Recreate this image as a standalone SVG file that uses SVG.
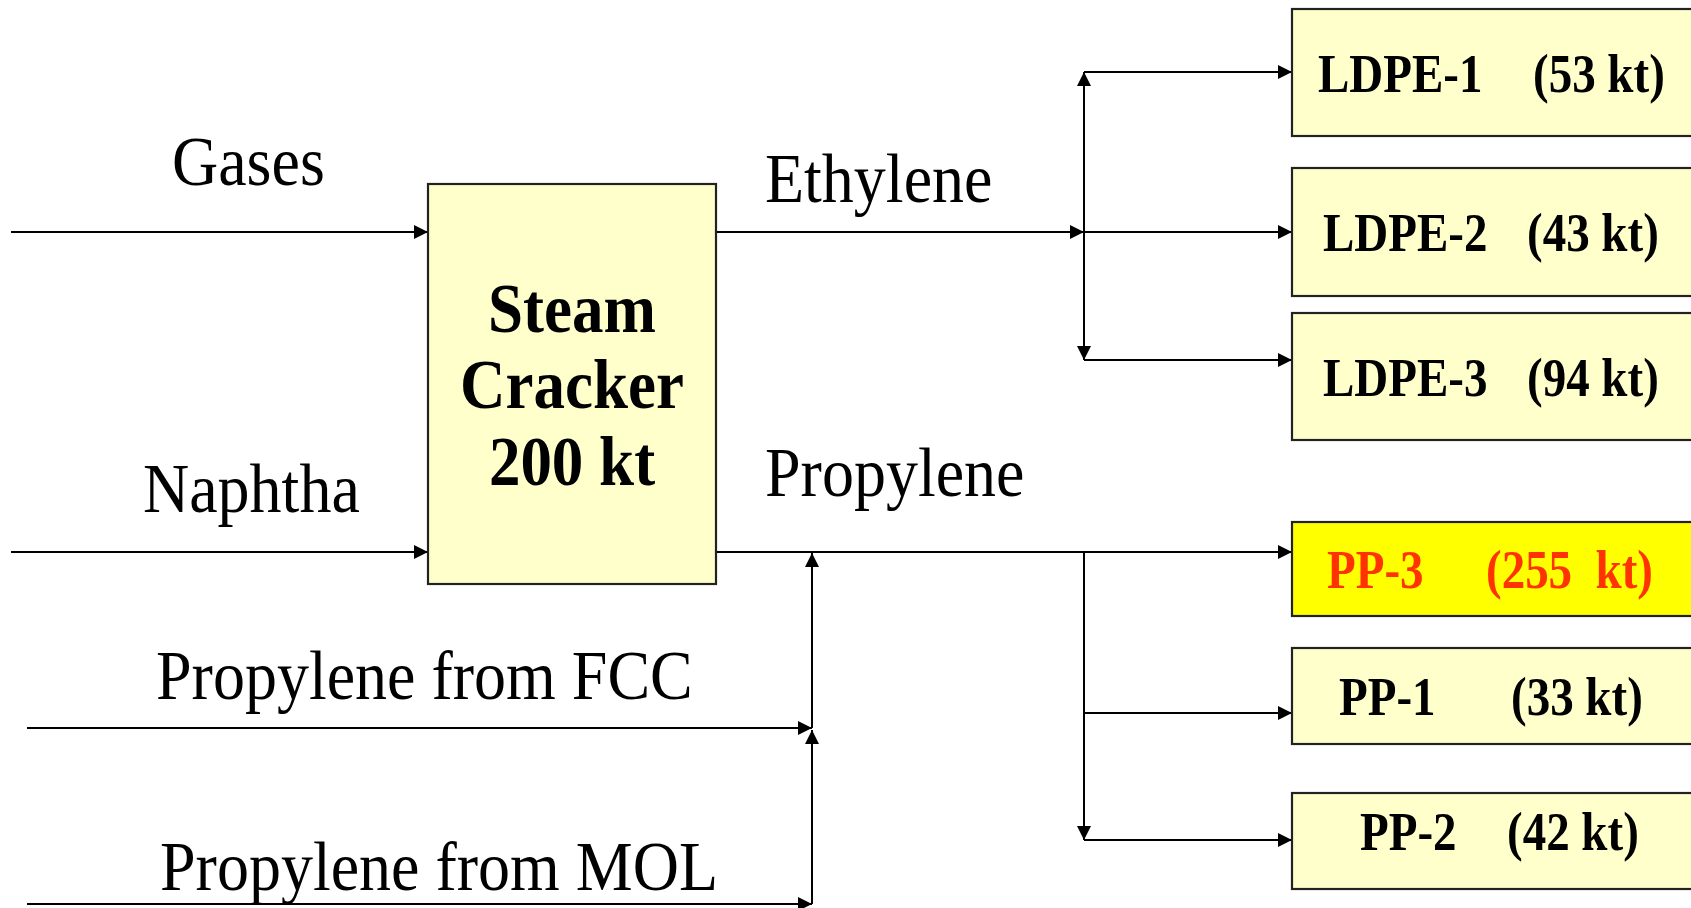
<svg xmlns="http://www.w3.org/2000/svg" width="1691" height="908" viewBox="0 0 1691 908">
<style>
.ln{stroke:#000;stroke-width:2;fill:none}
.box{fill:#FFFFCC;stroke:#222;stroke-width:2.2}
.hot{fill:#FFFF00;stroke:#222;stroke-width:2.2}
.lbl{font-family:"Liberation Serif","Times New Roman",serif;font-size:64px;fill:#000}
.bx{font-family:"Liberation Serif","Times New Roman",serif;font-size:47px;font-weight:bold;fill:#000;white-space:pre}
.sc{font-family:"Liberation Serif","Times New Roman",serif;font-size:63px;font-weight:bold;fill:#000;text-anchor:middle}
.red{fill:#FF3300}
</style>
<defs>
<marker id="ah" viewBox="0 0 10 10" markerUnits="userSpaceOnUse" markerWidth="17" markerHeight="14" refX="10" refY="5" orient="auto">
<path d="M0,0 L10,5 L0,10 z" fill="#000"/>
</marker>
</defs>
<rect width="1691" height="908" fill="#fff"/>

<g id="connectors">
<line class="ln" x1="11" y1="232" x2="428" y2="232" marker-end="url(#ah)"/>
<line class="ln" x1="11" y1="552" x2="428" y2="552" marker-end="url(#ah)"/>
<line class="ln" x1="716" y1="232" x2="1084" y2="232" marker-end="url(#ah)"/>
<line class="ln" x1="1084" y1="232" x2="1292" y2="232" marker-end="url(#ah)"/>
<line class="ln" x1="1084" y1="232" x2="1084" y2="72" marker-end="url(#ah)"/>
<line class="ln" x1="1084" y1="232" x2="1084" y2="360" marker-end="url(#ah)"/>
<line class="ln" x1="1084" y1="72" x2="1292" y2="72" marker-end="url(#ah)"/>
<line class="ln" x1="1084" y1="360" x2="1292" y2="360" marker-end="url(#ah)"/>
<line class="ln" x1="716" y1="552" x2="1292" y2="552" marker-end="url(#ah)"/>
<line class="ln" x1="1084" y1="552" x2="1084" y2="840" marker-end="url(#ah)"/>
<line class="ln" x1="1084" y1="713" x2="1292" y2="713" marker-end="url(#ah)"/>
<line class="ln" x1="1084" y1="840" x2="1292" y2="840" marker-end="url(#ah)"/>
<line class="ln" x1="27" y1="728" x2="812" y2="728" marker-end="url(#ah)"/>
<line class="ln" x1="812" y1="728" x2="812" y2="553" marker-end="url(#ah)"/>
<line class="ln" x1="27" y1="904" x2="812" y2="904" marker-end="url(#ah)"/>
<line class="ln" x1="812" y1="904" x2="812" y2="730" marker-end="url(#ah)"/>
</g>

<g id="labels">
<text class="lbl" transform="translate(172 185) scale(1 1.1)">Gases</text>
<text class="lbl" transform="translate(143 512) scale(1 1.1)">Naphtha</text>
<text class="lbl" transform="translate(765 202) scale(1 1.1)">Ethylene</text>
<text class="lbl" transform="translate(765 496) scale(1 1.1)">Propylene</text>
<text class="lbl" transform="translate(156 699) scale(1 1.1)">Propylene from FCC</text>
<text class="lbl" transform="translate(160 890) scale(1 1.1)">Propylene from MOL</text>
</g>

<g id="steam-cracker">
<rect class="box" x="428" y="184" width="288" height="400"/>
<text class="sc" transform="translate(572 332) scale(1 1.1)">Steam</text>
<text class="sc" transform="translate(572 408) scale(1 1.1)">Cracker</text>
<text class="sc" transform="translate(572 485) scale(1 1.1)">200 kt</text>
</g>

<g id="ldpe1">
<rect class="box" x="1292" y="9" width="410" height="127"/>
<text class="bx" transform="translate(1318 92) scale(1 1.15)">LDPE-1</text>
<text class="bx" transform="translate(1533 92) scale(1 1.15)">(53 kt)</text>
</g>
<g id="ldpe2">
<rect class="box" x="1292" y="168" width="410" height="128"/>
<text class="bx" transform="translate(1323 251) scale(1 1.15)">LDPE-2</text>
<text class="bx" transform="translate(1527 251) scale(1 1.15)">(43 kt)</text>
</g>
<g id="ldpe3">
<rect class="box" x="1292" y="313" width="410" height="127"/>
<text class="bx" transform="translate(1323 396) scale(1 1.15)">LDPE-3</text>
<text class="bx" transform="translate(1527 396) scale(1 1.15)">(94 kt)</text>
</g>
<g id="pp3">
<rect class="hot" x="1292" y="522" width="410" height="94"/>
<text class="bx red" transform="translate(1327 588) scale(1 1.15)">PP-3</text>
<text class="bx red" transform="translate(1486 588) scale(1 1.15)">(255  kt)</text>
</g>
<g id="pp1">
<rect class="box" x="1292" y="648" width="410" height="96"/>
<text class="bx" transform="translate(1339 715) scale(1 1.15)">PP-1</text>
<text class="bx" transform="translate(1511 715) scale(1 1.15)">(33 kt)</text>
</g>
<g id="pp2">
<rect class="box" x="1292" y="793" width="410" height="96"/>
<text class="bx" transform="translate(1360 850) scale(1 1.15)">PP-2</text>
<text class="bx" transform="translate(1507 850) scale(1 1.15)">(42 kt)</text>
</g>
</svg>
